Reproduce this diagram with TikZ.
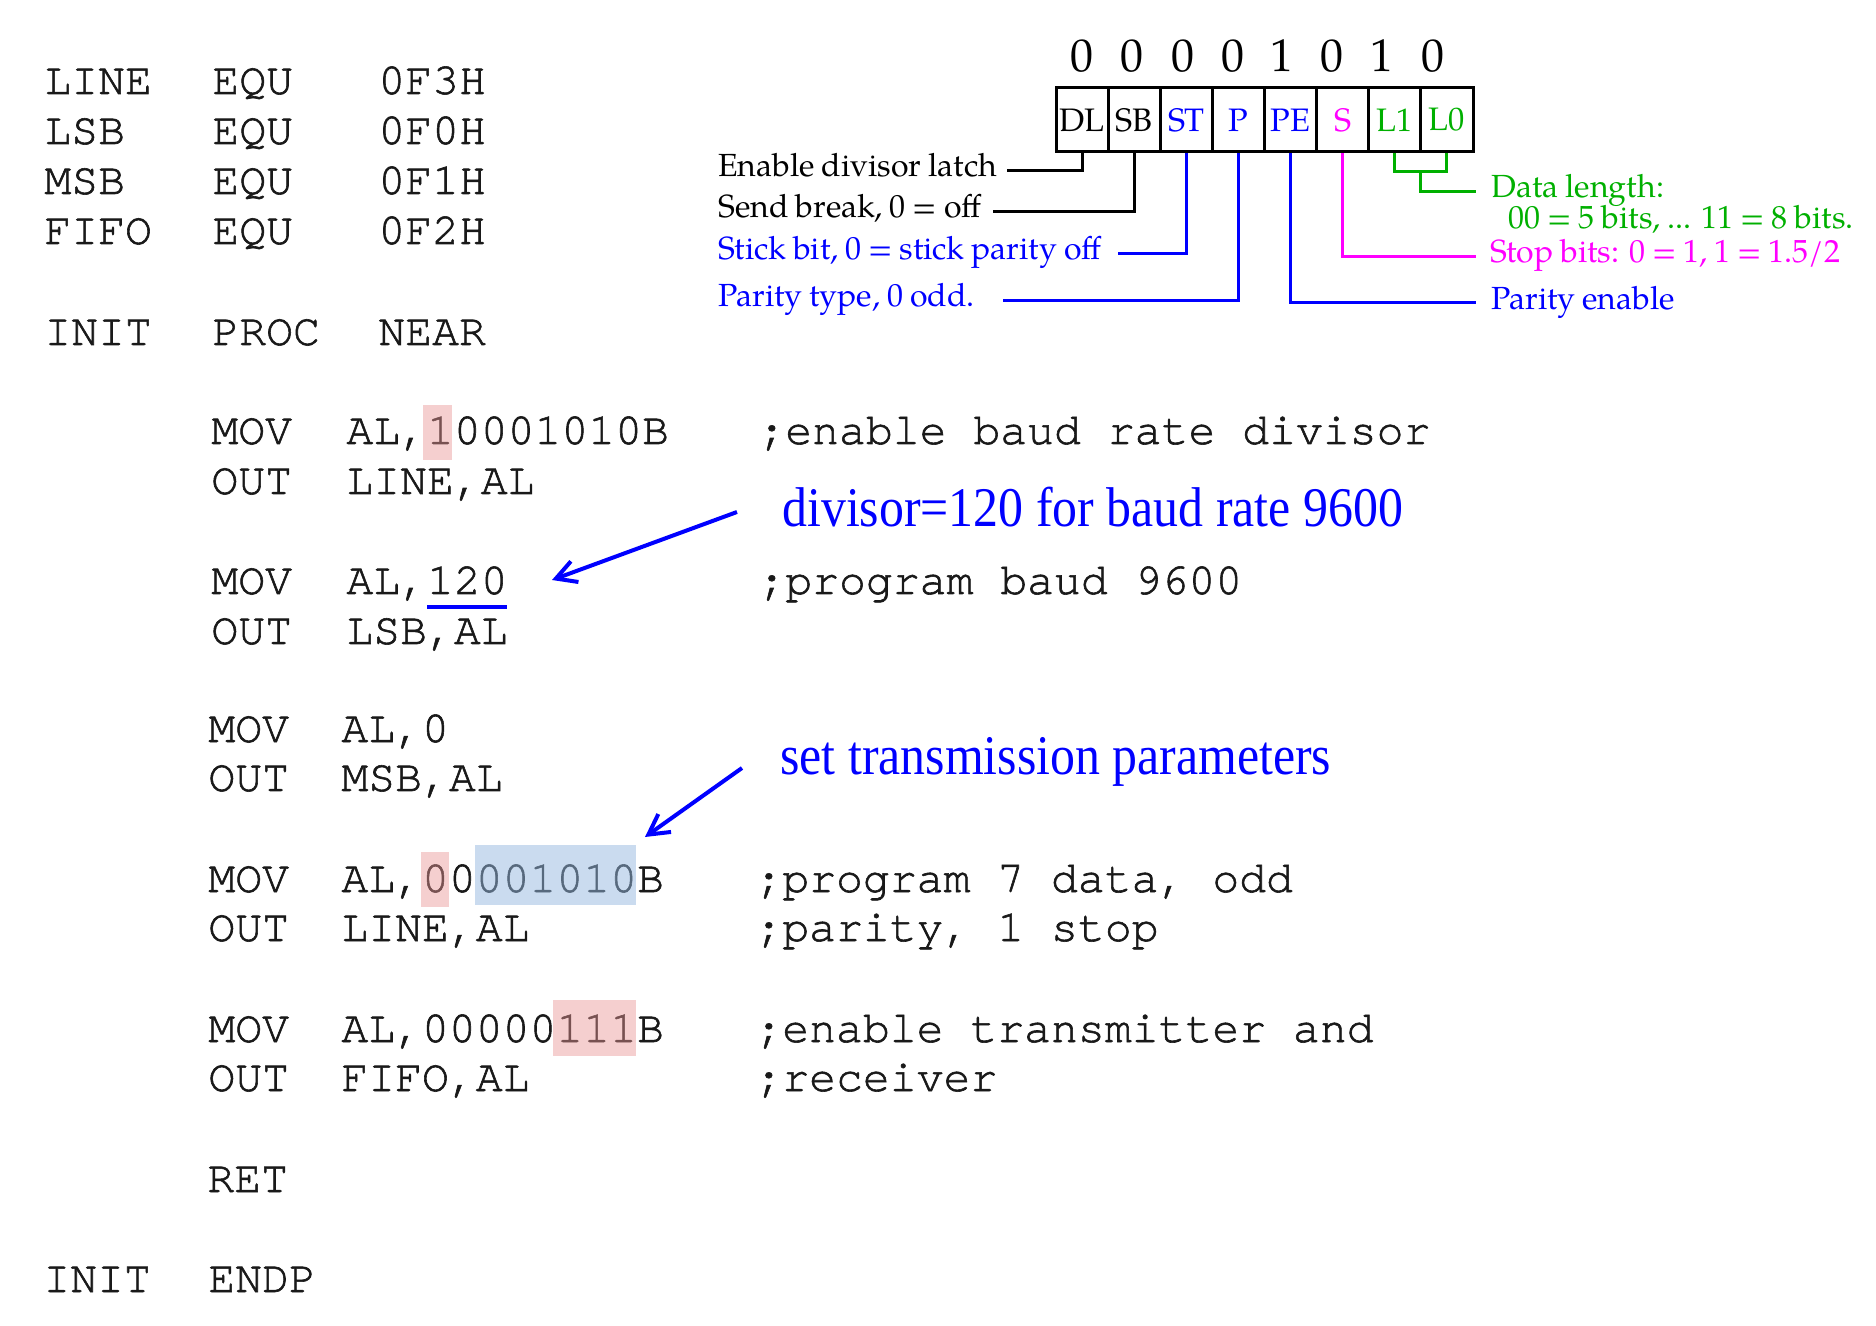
\documentclass[tikz,border=0pt]{standalone}
\usepackage{fontspec}
\setmainfont{TeX Gyre Pagella}
\newfontfamily\codefont[FakeBold=1.3]{TeX Gyre Cursor}
\newfontfamily\notefont[FakeStretch=0.89]{Liberation Serif}
\usetikzlibrary{arrows.meta,calc}
\definecolor{lblue}{RGB}{0,0,255}
\definecolor{lmag}{RGB}{255,0,255}
\definecolor{lgreen}{RGB}{0,176,0}
\definecolor{hlred}{RGB}{235,150,150}
\definecolor{hlblue}{RGB}{150,185,225}
\definecolor{codeink}{RGB}{25,25,25}
\newcommand\lblfont{\fontsize{16}{19}\selectfont\spaceskip=0.22em\relax}
\begin{document}
\begin{tikzpicture}[x=0.5pt,y=-0.5pt,
  code/.style={anchor=base west,inner sep=0pt,font=\codefont\fontsize{22.4}{26}\selectfont,text=codeink},
  lbl/.style={anchor=base west,inner sep=0pt,font=\lblfont},
  bitdigit/.style={anchor=base,inner sep=0pt,font=\fontsize{23}{26}\selectfont},
  cell/.style={draw,line width=1.5pt,minimum width=26.06pt,minimum height=32pt,inner sep=0pt,font=\fontsize{16.25}{19}\selectfont},
  conn/.style={line width=1.5pt},
  note/.style={anchor=base west,inner sep=0pt,font=\notefont\fontsize{28}{32}\selectfont,text=lblue},
  pointer/.style={lblue,line width=2pt,-{Straight Barb[length=10pt,width=11pt]}},
  hlr/.style={fill=hlred,fill opacity=0.45},
  hlb/.style={fill=hlblue,fill opacity=0.5}]
\fill[white] (0,0) rectangle (1876,1326);
\useasboundingbox (0,0) rectangle (1876,1326);

% ---------- code: definitions ----------
\node[code] (d1a) at (44,94) {LINE};
\node[code] (d1b) at (212,94) {EQU};
\node[code] (d1c) at (378,94) {0F3H};
\node[code] (d2a) at (44,144) {LSB};
\node[code] (d2b) at (212,144) {EQU};
\node[code] (d2c) at (378,144) {0F0H};
\node[code] (d3a) at (44,194) {MSB};
\node[code] (d3b) at (212,194) {EQU};
\node[code] (d3c) at (378,194) {0F1H};
\node[code] (d4a) at (44,244) {FIFO};
\node[code] (d4b) at (212,244) {EQU};
\node[code] (d4c) at (378,244) {0F2H};
\node[code] (p1a) at (44,345) {INIT};
\node[code] (p1b) at (212,345) {PROC};
\node[code] (p1c) at (378,345) {NEAR};

% ---------- code: body ----------
\node[code] (m1a) at (211,444) {MOV};
\node[code] (m1b) at (346,444) {AL,10001010B};
\node[code] (m1c) at (758,444) {;enable baud rate divisor};
\node[code] (o1a) at (211,494) {OUT};
\node[code] (o1b) at (346,494) {LINE,AL};

\node[code] (m2a) at (211,594) {MOV};
\node[code] (m2b) at (346,594) {AL,120};
\node[code] (m2c) at (758,594) {;program baud 9600};
\node[code] (o2a) at (211,644) {OUT};
\node[code] (o2b) at (346,644) {LSB,AL};

\node[code] (m3a) at (208,742) {MOV};
\node[code] (m3b) at (341,742) {AL,0};
\node[code] (o3a) at (208,791) {OUT};
\node[code] (o3b) at (341,791) {MSB,AL};

\node[code] (m4a) at (208,892) {MOV};
\node[code] (m4b) at (341,892) {AL,00001010B};
\node[code] (m4c) at (755,892) {;program 7 data, odd};
\node[code] (o4a) at (208,941) {OUT};
\node[code] (o4b) at (341,941) {LINE,AL};
\node[code] (o4c) at (755,941) {;parity, 1 stop};

\node[code] (m5a) at (208,1042) {MOV};
\node[code] (m5b) at (341,1042) {AL,00000111B};
\node[code] (m5c) at (755,1042) {;enable transmitter and};
\node[code] (o5a) at (208,1091) {OUT};
\node[code] (o5b) at (341,1091) {FIFO,AL};
\node[code] (o5c) at (755,1091) {;receiver};

\node[code] (ret) at (207,1192) {RET};
\node[code] (e1a) at (43,1292) {INIT};
\node[code] (e1b) at (208,1292) {ENDP};

% ---------- highlights ----------
\fill[hlr] (423,405) rectangle (452,460);
\fill[hlr] (421,852) rectangle (449,907);
\fill[hlb] (475,845) rectangle (636,905);
\fill[hlr] (553,1000) rectangle (636,1056);
\draw[lblue,line width=2pt] (427,607) -- (507,607);

% ---------- notes and pointers ----------
\node[note] (n1) at (782,527) {divisor=120 for baud rate 9600};
\node[note] (n2) at (780,774) {set transmission parameters};
\coordinate (a1s) at (737,512);
\coordinate (a1t) at (552,580);
\coordinate (a2s) at (742,768);
\coordinate (a2t) at (645,837);
\draw[pointer] (a1s) -- (a1t);
\draw[pointer] (a2s) -- (a2t);

% ---------- register ----------
\foreach \nm/\tx/\col [count=\i from 0] in {cDL/DL/black,cSB/SB/black,cST/ST/lblue,cP/P/lblue,cPE/PE/lblue,cS/S/lmag,cLa/L1/lgreen,cLb/L0/lgreen}
  \node[cell,text=\col] (\nm) at ({1056+52.125*(\i+0.5)},120) {\tx};

\foreach \nm/\tx/\xx in {b7/0/1082,b6/0/1132,b5/0/1183,b4/0/1233,b3/1/1282,b2/0/1332,b1/1/1382,b0/0/1433}
  \node[bitdigit] (\nm) at (\xx,72) {\tx};

% left labels
\node[lbl] (lEn) at (718,177) {Enable divisor latch};
\node[lbl] (lSb) at (718,218) {Send break, 0 = off};
\node[lbl,text=lblue] (lSt) at (718,260) {Stick bit, 0 = stick parity off};
\node[lbl,text=lblue] (lPt) at (718,307) {Parity type, 0 odd.};
% right labels
\node[lbl,text=lgreen] (lDl) at (1491,198) {Data length:};
\node[lbl,text=lgreen] (lDl2) at (1508,229) {00 = 5 bits, ... 11 = 8 bits.};
\node[lbl,text=lmag] (lStop) at (1490,263) {Stop bits: 0 = 1, 1 = 1.5/2};
\node[lbl,text=lblue] (lPe) at (1491,310) {Parity enable};

\coordinate (eEn) at (1007,171);
\coordinate (eSb) at (993,212);
\coordinate (eSt) at (1118,254);
\coordinate (ePt) at (1003,301);
\coordinate (eDl) at (1476,192);
\coordinate (eStop) at (1476,257);
\coordinate (ePe) at (1476,303);

\draw[conn] (cDL.south) |- (eEn);
\draw[conn] (cSB.south) |- (eSb);
\draw[conn,lblue] (cST.south) |- (eSt);
\draw[conn,lblue] (cP.south) |- (ePt);
\draw[conn,lblue] (cPE.south) |- (ePe);
\draw[conn,lmag] (cS.south) |- (eStop);
\coordinate (gJ) at ($(cLa.south)!0.5!(cLb.south)$);
\draw[conn,lgreen] (cLa.south) -- (cLa.south |- 0,172) -- (cLb.south |- 0,172) -- (cLb.south);
\draw[conn,lgreen] (gJ |- 0,172) |- (eDl);
\end{tikzpicture}
\end{document}
